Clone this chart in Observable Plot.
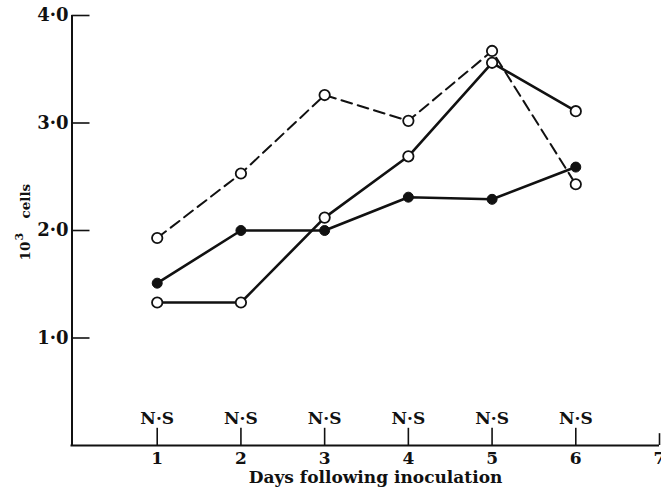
<!DOCTYPE html>
<html>
<head>
<meta charset="utf-8">
<script src="https://cdn.jsdelivr.net/npm/d3@7"></script>
<script src="https://cdn.jsdelivr.net/npm/@observablehq/plot@0.6"></script>
<style>
  body { margin: 0; background: #fff; }
</style>
</head>
<body>
<div id="chart"></div>
<script>
// Cell counts (10^3 cells) by day following inoculation
const days = [1, 2, 3, 4, 5, 6];
const openDashed  = [1.93, 2.53, 3.26, 3.02, 3.67, 2.43];
const openSolid   = [1.33, 1.33, 2.12, 2.69, 3.56, 3.11];
const filledSolid = [1.51, 2.00, 2.00, 2.31, 2.29, 2.59];

// Axis ticks and labels
const xTicks = [1, 2, 3, 4, 5, 6, 7];
const yTicks = [1, 2, 3, 4];
const yTickLabels = ["1·0", "2·0", "3·0", "4·0"];
const sigLabel = "N·S";
const xTitle = "Days following inoculation";
const yTitleBase = "10";
const yTitleExp = "3";
const yTitleUnit = "cells";

const rows = (vals) => days.map((d, i) => ({day: d, value: vals[i]}));
const dashedRows = rows(openDashed);
const openRows = rows(openSolid);
const filledRows = rows(filledSolid);

const ink = "#111";
const bold = {fontWeight: "bold", fill: ink, lineAnchor: "middle"};

const chart = Plot.plot({
  width: 661,
  height: 490,
  marginLeft: 73,
  marginRight: 2,
  marginTop: 15,
  marginBottom: 45,
  x: {domain: [0, 7], axis: null},
  y: {domain: [0, 4], axis: null},
  style: {fontFamily: "DejaVu Serif", background: "#fff", color: ink},
  marks: [
    // axis lines
    Plot.ruleX([0], {y1: 0, y2: 4, dx: -1.5, stroke: ink, strokeWidth: 2}),
    Plot.ruleY([0], {x1: 0, x2: 7, insetLeft: -2.5, stroke: ink, strokeWidth: 2}),
    // inward ticks
    Plot.ruleY(yTicks, {y: d => d, x1: 0, x2: 0.215, dx: -1.5, stroke: ink, strokeWidth: 1.6}),
    Plot.ruleX(xTicks, {x: d => d, y1: 0, y2: d => (d === 7 ? 0.11 : 0.16), stroke: ink, strokeWidth: 1.6}),
    // tick labels
    Plot.text(yTicks, {x: 0, y: d => d, text: (d, i) => yTickLabels[i], textAnchor: "end", dx: -5, fontSize: 18, ...bold}),
    Plot.text(xTicks, {x: d => d, y: 0, text: d => String(d), dy: 13, fontSize: 17, ...bold}),
    // significance labels
    Plot.text(days, {x: d => d, y: 0, text: () => sigLabel, dy: -27, fontSize: 17, ...bold}),
    // axis titles
    Plot.text([xTitle], {frameAnchor: "bottom", dx: 9, dy: 32.5, fontSize: 17, ...bold}),
    Plot.text([yTitleBase], {frameAnchor: "left", rotate: -90, textAnchor: "start", dx: -48.2, dy: 30, fontSize: 13.5, ...bold}),
    Plot.text([yTitleExp], {frameAnchor: "left", rotate: -90, textAnchor: "start", dx: -54.5, dy: 10, fontSize: 11, ...bold}),
    Plot.text([yTitleUnit], {frameAnchor: "left", rotate: -90, textAnchor: "start", dx: -48.2, dy: -12, fontSize: 13.5, ...bold}),
    // series lines
    Plot.line(dashedRows, {x: "day", y: "value", stroke: ink, strokeWidth: 2, strokeDasharray: "11,6"}),
    Plot.line(filledRows, {x: "day", y: "value", stroke: ink, strokeWidth: 2.6}),
    Plot.line(openRows, {x: "day", y: "value", stroke: ink, strokeWidth: 2.6}),
    // series markers
    Plot.dot(dashedRows, {x: "day", y: "value", r: 5.2, fill: "#fff", stroke: ink, strokeWidth: 1.8}),
    Plot.dot(filledRows, {x: "day", y: "value", r: 5, fill: ink, stroke: ink, strokeWidth: 1}),
    Plot.dot(openRows, {x: "day", y: "value", r: 5.2, fill: "#fff", stroke: ink, strokeWidth: 1.8})
  ]
});

document.getElementById("chart").appendChild(chart);
</script>
</body>
</html>
